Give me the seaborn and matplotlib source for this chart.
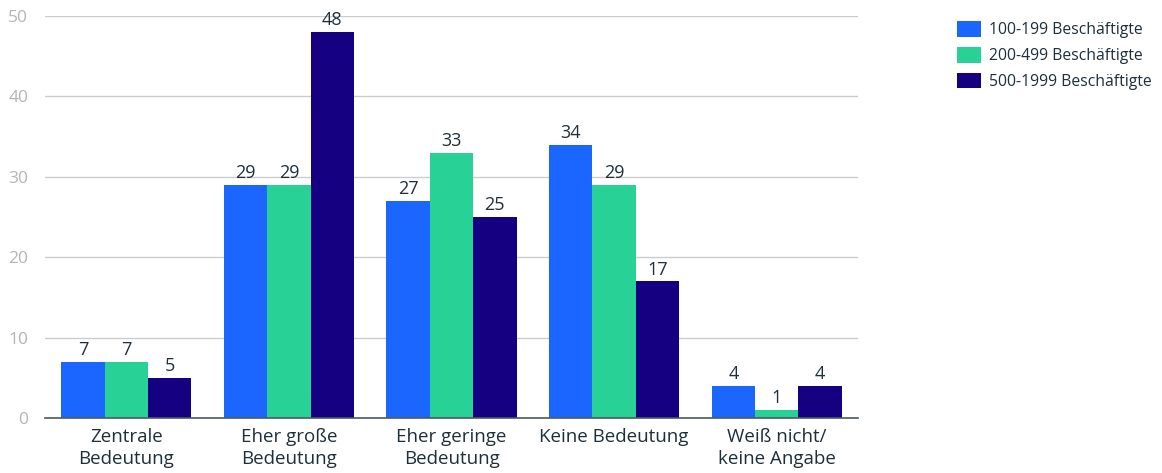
import matplotlib
matplotlib.use("Agg")
import matplotlib.pyplot as plt
import seaborn as sns
import pandas as pd

categories = ["Zentrale\nBedeutung", "Eher große\nBedeutung", "Eher geringe\nBedeutung",
              "Keine Bedeutung", "Weiß nicht/\nkeine Angabe"]
series_names = ["100-199 Beschäftigte", "200-499 Beschäftigte", "500-1999 Beschäftigte"]
values_100_199 = [7, 29, 27, 34, 4]
values_200_499 = [7, 29, 33, 29, 1]
values_500_1999 = [5, 48, 25, 17, 4]
colors = ["#1b66ff", "#28d195", "#140080"]
yticks = [0, 10, 20, 30, 40, 50]

rows = []
for name, vals in zip(series_names, [values_100_199, values_200_499, values_500_1999]):
    for c, v in zip(categories, vals):
        rows.append({"cat": c, "series": name, "value": v})
df = pd.DataFrame(rows)

sns.set_theme(style="white")
plt.rcParams['font.family'] = ['Open Sans', 'DejaVu Sans']
text_color = "#1f2f3a"

fig = plt.figure(figsize=(11.62, 4.73), dpi=100)
ax = fig.add_axes([45/1162, 1-418/473, (858-45)/1162, (418-16)/473])

sns.barplot(data=df, x="cat", y="value", hue="series", palette=colors, ax=ax,
            width=0.8, saturation=1, legend=True, edgecolor="none")

for cont in ax.containers:
    ax.bar_label(cont, fmt="%d", padding=2, fontsize=13, color=text_color)

ax.set_ylim(0, 50)
ax.set_yticks(yticks)
ax.set_xlim(-0.5, len(categories) - 0.5)
ax.yaxis.grid(True, color="#cccccc", linewidth=1)
ax.set_axisbelow(True)
for s in ["top", "right", "left"]:
    ax.spines[s].set_visible(False)
ax.spines["bottom"].set_color("#4a5a60")
ax.spines["bottom"].set_linewidth(1.2)
ax.set_xlabel("")
ax.set_ylabel("")
ax.tick_params(axis="y", colors="#b5b5b5", labelsize=12.5, length=0, pad=12)
ax.tick_params(axis="x", colors=text_color, labelsize=13.5, length=0, pad=7)
for lbl in ax.get_xticklabels():
    lbl.set_linespacing(1.3)

h, l = ax.get_legend_handles_labels()
ax.get_legend().remove()
leg = fig.legend(h, l, loc="upper left", bbox_to_anchor=(0.811, 0.985), frameon=False,
                 fontsize=11.3, handlelength=1.55, handleheight=1.15, labelspacing=0.55,
                 handletextpad=0.55)
for t in leg.get_texts():
    t.set_color(text_color)

fig.savefig("out.png", dpi=100)
